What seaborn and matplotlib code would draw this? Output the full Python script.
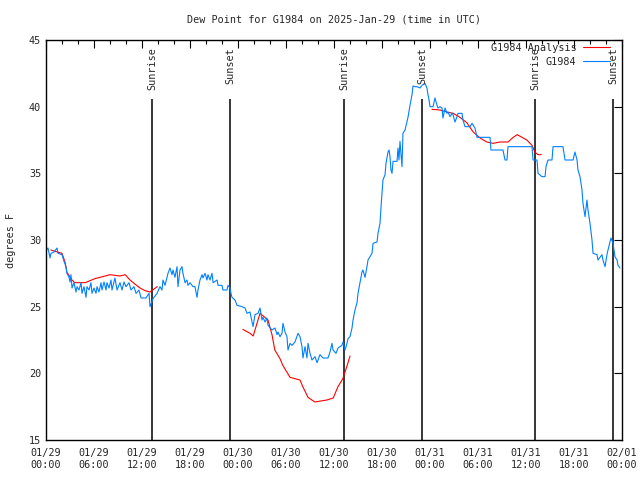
import numpy as np
import pandas as pd
import matplotlib
matplotlib.use("Agg")
import matplotlib.pyplot as plt
import matplotlib.dates as mdates
import seaborn as sns

# ---- data (hours since 2025-01-29 00:00 UTC, degrees F) ----
obs_hours = [0.12, 0.25, 0.5, 0.62, 1.0, 1.38, 1.5, 2.0, 2.25, 2.5, 2.62, 2.88, 3.0, 3.12, 3.25,
             3.5, 3.75, 3.88, 4.12, 4.38, 4.5, 4.75, 5.0, 5.12, 5.38, 5.62, 5.75, 6.0, 6.25,
             6.38, 6.62, 6.88, 7.0, 7.25, 7.5, 7.62, 7.88, 8.12, 8.25, 8.62, 8.88, 9.25, 9.5,
             9.75, 10.0, 10.38, 10.62, 11.0, 11.25, 11.62, 11.88, 12.5, 12.88, 13.0, 13.38,
             13.88, 14.25, 14.5, 14.62, 14.88, 15.12, 15.25, 15.5, 15.75, 15.88, 16.12, 16.38,
             16.5, 16.75, 17.0, 17.12, 17.38, 17.62, 17.75, 18.0, 18.38, 18.62, 18.88, 19.0,
             19.25, 19.5, 19.62, 19.88, 20.12, 20.25, 20.5, 20.75, 20.88, 21.38, 21.5, 22.0,
             22.12, 22.62, 22.75, 23.0, 23.12, 23.25, 23.62, 23.88, 24.5, 24.88, 25.12, 25.5,
             25.88, 26.12, 26.5, 26.75, 27.0, 27.12, 27.38, 27.62, 27.75, 28.25, 28.62, 28.88,
             29.0, 29.25, 29.5, 29.62, 29.88, 30.12, 30.25, 30.5, 30.75, 31.12, 31.5, 31.75,
             32.0, 32.12, 32.38, 32.62, 32.75, 33.0, 33.25, 33.62, 33.88, 34.0, 34.25, 34.62,
             35.25, 35.5, 35.75, 35.88, 36.25, 36.5, 37.0, 37.12, 37.38, 37.62, 37.75, 38.0,
             38.25, 38.38, 38.62, 38.88, 39.0, 39.25, 39.5, 39.62, 39.88, 40.12, 40.25, 40.5,
             40.75, 40.88, 41.38, 41.5, 41.75, 41.88, 42.0, 42.12, 42.38, 42.5, 42.75, 42.88,
             43.0, 43.12, 43.25, 43.38, 43.88, 44.0, 44.12, 44.25, 44.5, 44.62, 44.88, 45.12,
             45.25, 45.5, 45.75, 45.88, 46.12, 46.38, 46.75, 47.0, 47.38, 47.62, 47.75, 47.88,
             48.0, 48.38, 48.62, 48.88, 49.0, 49.25, 49.5, 49.62, 49.88, 50.12, 50.25, 50.5,
             50.75, 50.88, 51.12, 51.38, 51.5, 52.0, 52.12, 52.38, 53.0, 53.25, 53.62, 53.88,
             55.5, 55.62, 57.12, 57.38, 57.62, 57.75, 60.75, 60.88, 61.38, 61.5, 62.0, 62.38,
             62.5, 62.75, 63.25, 63.38, 64.62, 64.88, 65.88, 66.12, 66.38, 66.5, 66.75, 67.0,
             67.12, 67.38, 67.62, 67.75, 68.0, 68.25, 68.38, 68.88, 69.0, 69.5, 69.62, 69.88,
             70.12, 70.25, 70.62, 70.88, 71.0, 71.12, 71.38, 71.5, 71.75]
obs_values = [29.3, 29.4, 28.65, 29.0, 29.1, 29.4, 29.0, 28.9, 28.4, 28.0, 27.5, 27.2, 26.85, 27.4, 26.4,
              26.8, 26.1, 26.5, 26.25, 26.8, 26.0, 26.5, 25.7, 26.5, 26.25, 26.8, 26.0, 26.4, 26.0,
              26.5, 26.1, 26.8, 26.25, 26.85, 26.25, 26.8, 26.4, 27.0, 26.25, 27.15, 26.25, 26.8, 26.25,
              26.85, 26.5, 26.8, 26.25, 26.5, 26.0, 26.25, 25.65, 25.65, 26.0, 25.0, 25.6,
              26.0, 26.5, 26.25, 27.0, 26.6, 27.2, 27.5, 27.9, 27.4, 27.75, 27.2, 28.0,
              26.5, 27.75, 28.0, 27.5, 26.8, 27.0, 26.6, 26.8, 26.5, 26.5, 25.7, 26.25,
              27.0, 27.4, 27.15, 27.5, 27.0, 27.4, 27.0, 27.5, 26.8, 27.0, 26.6, 26.6,
              26.25, 26.25, 26.6, 26.4, 26.0, 25.7, 25.5, 25.1, 25.0, 24.9, 24.5, 24.6,
              23.5, 24.4, 24.5, 24.9, 24.0, 24.2, 23.85, 24.15, 23.6, 23.25, 23.4, 22.9,
              23.1, 22.75, 23.0, 23.75, 23.1, 22.75, 21.75, 22.25, 22.1, 22.35, 23.0, 22.75,
              22.0, 21.15, 22.0, 21.15, 22.25, 21.5, 21.0, 21.25, 20.8, 21.0, 21.4, 21.15,
              21.15, 21.6, 22.25, 21.75, 21.5, 21.9, 22.1, 22.35, 21.75, 22.25, 22.6, 22.75,
              23.4, 24.0, 24.75, 25.3, 26.0, 26.8, 27.6, 27.75, 27.2, 28.0, 28.5, 28.75,
              29.0, 29.75, 29.85, 30.5, 31.25, 32.5, 33.5, 34.5, 34.9, 35.75, 36.6, 36.75,
              36.25, 35.25, 35.0, 35.9, 35.9, 36.9, 36.0, 37.4, 35.5, 38.0, 38.25, 38.85,
              39.2, 40.1, 40.9, 41.55, 41.5, 41.5, 41.4, 41.6, 41.75, 41.4, 40.9, 40.5,
              40.0, 40.0, 40.65, 40.1, 39.9, 40.0, 39.9, 39.15, 39.9, 39.5, 39.6, 39.25,
              39.5, 39.4, 38.85, 39.25, 39.5, 39.5, 39.0, 38.5, 38.5, 38.75, 38.4, 37.7,
              37.7, 36.75, 36.75, 36.0, 36.0, 37.0, 37.0, 36.0, 36.0, 35.0, 34.75, 34.75,
              35.5, 36.0, 36.0, 37.0, 37.0, 36.0, 36.0, 36.6, 36.0, 35.25, 34.75, 33.75,
              32.75, 31.75, 33.0, 32.25, 31.25, 30.0, 29.0, 28.9, 28.5, 28.9, 28.5, 28.0,
              28.9, 29.25, 30.15, 29.75, 29.25, 28.75, 28.5, 28.1, 27.9]

analysis_hours = [0.6, 2.0, 2.4, 2.6, 3.25, 3.6, 4.9, 6.1, 7.4, 8.0, 9.25, 9.9, 10.5, 11.1,
                  11.75, 12.4, 13.0, 13.9, None,
                  24.6, 25.5, 25.9, 26.75, 27.75, 28.25, 28.6, 29.25, 29.6, 30.5, 31.75,
                  32.1, 32.75, 33.6, 35.1, 35.9, 36.5, 37.1, 37.6, 38.0, None,
                  48.25, 49.25, 50.1, 50.9, 51.75, 52.6, 53.4, 54.25, 55.1, 55.9, 56.75,
                  57.75, 58.4, 58.9, 59.5, 60.1, 60.75, 61.1, 61.5, 61.9]
analysis_values = [29.25, 29.0, 28.3, 27.6, 27.0, 26.8, 26.8, 27.1, 27.3, 27.4, 27.3, 27.4, 27.0, 26.7,
                   26.4, 26.2, 26.1, 26.5, None,
                   23.3, 23.0, 22.8, 24.5, 24.0, 22.9, 21.75, 21.1, 20.6, 19.7, 19.5,
                   19.0, 18.2, 17.85, 18.0, 18.15, 19.0, 19.6, 20.5, 21.3, None,
                   39.8, 39.75, 39.6, 39.5, 39.2, 38.8, 38.1, 37.65, 37.35, 37.25, 37.35,
                   37.35, 37.7, 37.9, 37.7, 37.5, 37.1, 36.6, 36.4, 36.4]

sun_events = ["Sunrise", "Sunset", "Sunrise", "Sunset", "Sunrise", "Sunset"]
sun_hours = [13.25, 23.0, 37.25, 47.0, 61.12, 70.88]

base = pd.Timestamp("2025-01-29 00:00")

def to_time(hours):
    return [base + pd.Timedelta(hours=h) if h is not None else pd.NaT for h in hours]

obs_df = pd.DataFrame({"time": to_time(obs_hours), "dewpoint": obs_values})
ana_df = pd.DataFrame({"time": to_time(analysis_hours),
                       "dewpoint": [np.nan if v is None else v for v in analysis_values]})

sns.set_style("white")
plt.rcParams["font.family"] = ["DejaVu Sans Mono"]
FS = 7.3

fig = plt.figure(figsize=(6.4, 4.8), dpi=100)
ax = fig.add_axes([46 / 640, 40 / 480, 576 / 640, 400 / 480])

# Analysis drawn per segment so gaps are kept
valid = ana_df["dewpoint"].notna()
seg_id = (~valid).cumsum()
first = True
for _, seg in ana_df[valid].groupby(seg_id[valid]):
    ax.plot(seg["time"], seg["dewpoint"], color="#ff0000", lw=0.8,
            label="G1984 Analysis" if first else None)
    first = False
sns.lineplot(data=obs_df, x="time", y="dewpoint", ax=ax, color="#0080ff", lw=0.8,
             label="G1984", sort=False, estimator=None)

x0 = base
x1 = base + pd.Timedelta(hours=72)
ax.set_xlim(x0, x1)
ax.set_ylim(15, 45)

for ev, h in zip(sun_events, sun_hours):
    t = base + pd.Timedelta(hours=h)
    ax.vlines(t, 15, 40.6, color="black", lw=1.1, zorder=1)
    ax.text(t, 44.45, ev, rotation=90, ha="center", va="top", fontsize=FS)

ax.xaxis.set_major_locator(mdates.HourLocator(byhour=[0, 6, 12, 18]))
ax.xaxis.set_minor_locator(mdates.HourLocator(byhour=list(range(0, 24, 2))))
ax.xaxis.set_major_formatter(mdates.DateFormatter("%m/%d\n%H:%M"))
ax.set_yticks([15, 20, 25, 30, 35, 40, 45])
ax.tick_params(axis="both", which="both", direction="in", top=True, right=True,
               labelsize=FS, color="black")
ax.tick_params(axis="both", which="major", length=6, width=0.8)
ax.tick_params(axis="x", which="minor", length=3, width=0.8)
ax.tick_params(axis="x", which="major", pad=6)
for s in ax.spines.values():
    s.set_color("black")
    s.set_linewidth(1.0)

ax.set_xlabel("")
ax.set_ylabel("degrees F", fontsize=FS, labelpad=9)
fig.text(334 / 640, 1 - 20 / 480, "Dew Point for G1984 on 2025-Jan-29 (time in UTC)",
         ha="center", va="center", fontsize=FS)

leg = ax.legend(loc="upper right", bbox_to_anchor=(613 / 640, 1 - 40 / 480),
                bbox_transform=fig.transFigure, markerfirst=False, frameon=False,
                fontsize=FS, handlelength=2.7, borderaxespad=0.0, borderpad=0.3,
                labelspacing=0.35, handletextpad=0.6)

fig.savefig("out.png", dpi=100)
